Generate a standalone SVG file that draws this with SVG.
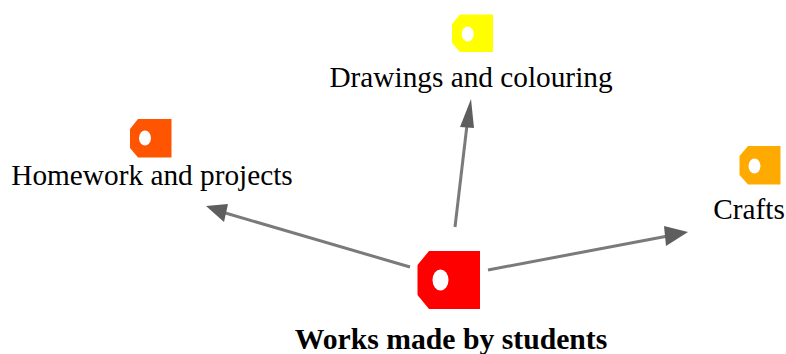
<svg xmlns="http://www.w3.org/2000/svg" width="786" height="354" viewBox="0 0 786 354">
<style>
text{font-family:"Liberation Serif","Times New Roman",serif;font-size:29.300px;fill:#000;text-anchor:middle}
.b{font-weight:bold;font-size:29.700px}
.l{fill:none;stroke:#7a7a7a;stroke-width:3}
.h{fill:#5e5e5e}
.o{fill:#fff}
</style>
<rect width="786" height="354" fill="#fff"/>
<g id="connectors">
<path class="l" d="M410 267L222 212"/><polygon class="h" points="206,206 228,204 224,222"/>
<path class="l" d="M455 227L467 125"/><polygon class="h" points="471,99 460,127 474,128"/>
<path class="l" d="M488 270L668 236"/><polygon class="h" points="688,232 664,226 666,246"/>
</g>
<g id="n-centre">
<polygon fill="#ff0000" points="429,251 480,251 480,309 429,309 417.500,295 417.500,265"/>
<ellipse class="o" cx="440.500" cy="280" rx="8" ry="10.500"/>
<text class="b" x="451" y="349">Works made by students</text>
</g>
<g id="n-drawings">
<polygon fill="#ffff00" points="460,14.500 493,14.500 493,52 460,52 452,43 452,24"/>
<ellipse class="o" cx="467.700" cy="34" rx="6" ry="7.500"/>
<text x="471" y="87">Drawings and colouring</text>
</g>
<g id="n-homework">
<polygon fill="#ff5500" points="138,119 171.500,119 171.500,157.500 138,157.500 130,148 130,129"/>
<ellipse class="o" cx="145" cy="138" rx="6" ry="7.500"/>
<text x="152" y="185">Homework and projects</text>
</g>
<g id="n-crafts">
<polygon fill="#ffaa00" points="748,146 780.500,146 780.500,184.500 748,184.500 739.500,175 739.500,156"/>
<ellipse class="o" cx="754.500" cy="166" rx="6" ry="7.500"/>
<text x="749" y="219">Crafts</text>
</g>
</svg>
